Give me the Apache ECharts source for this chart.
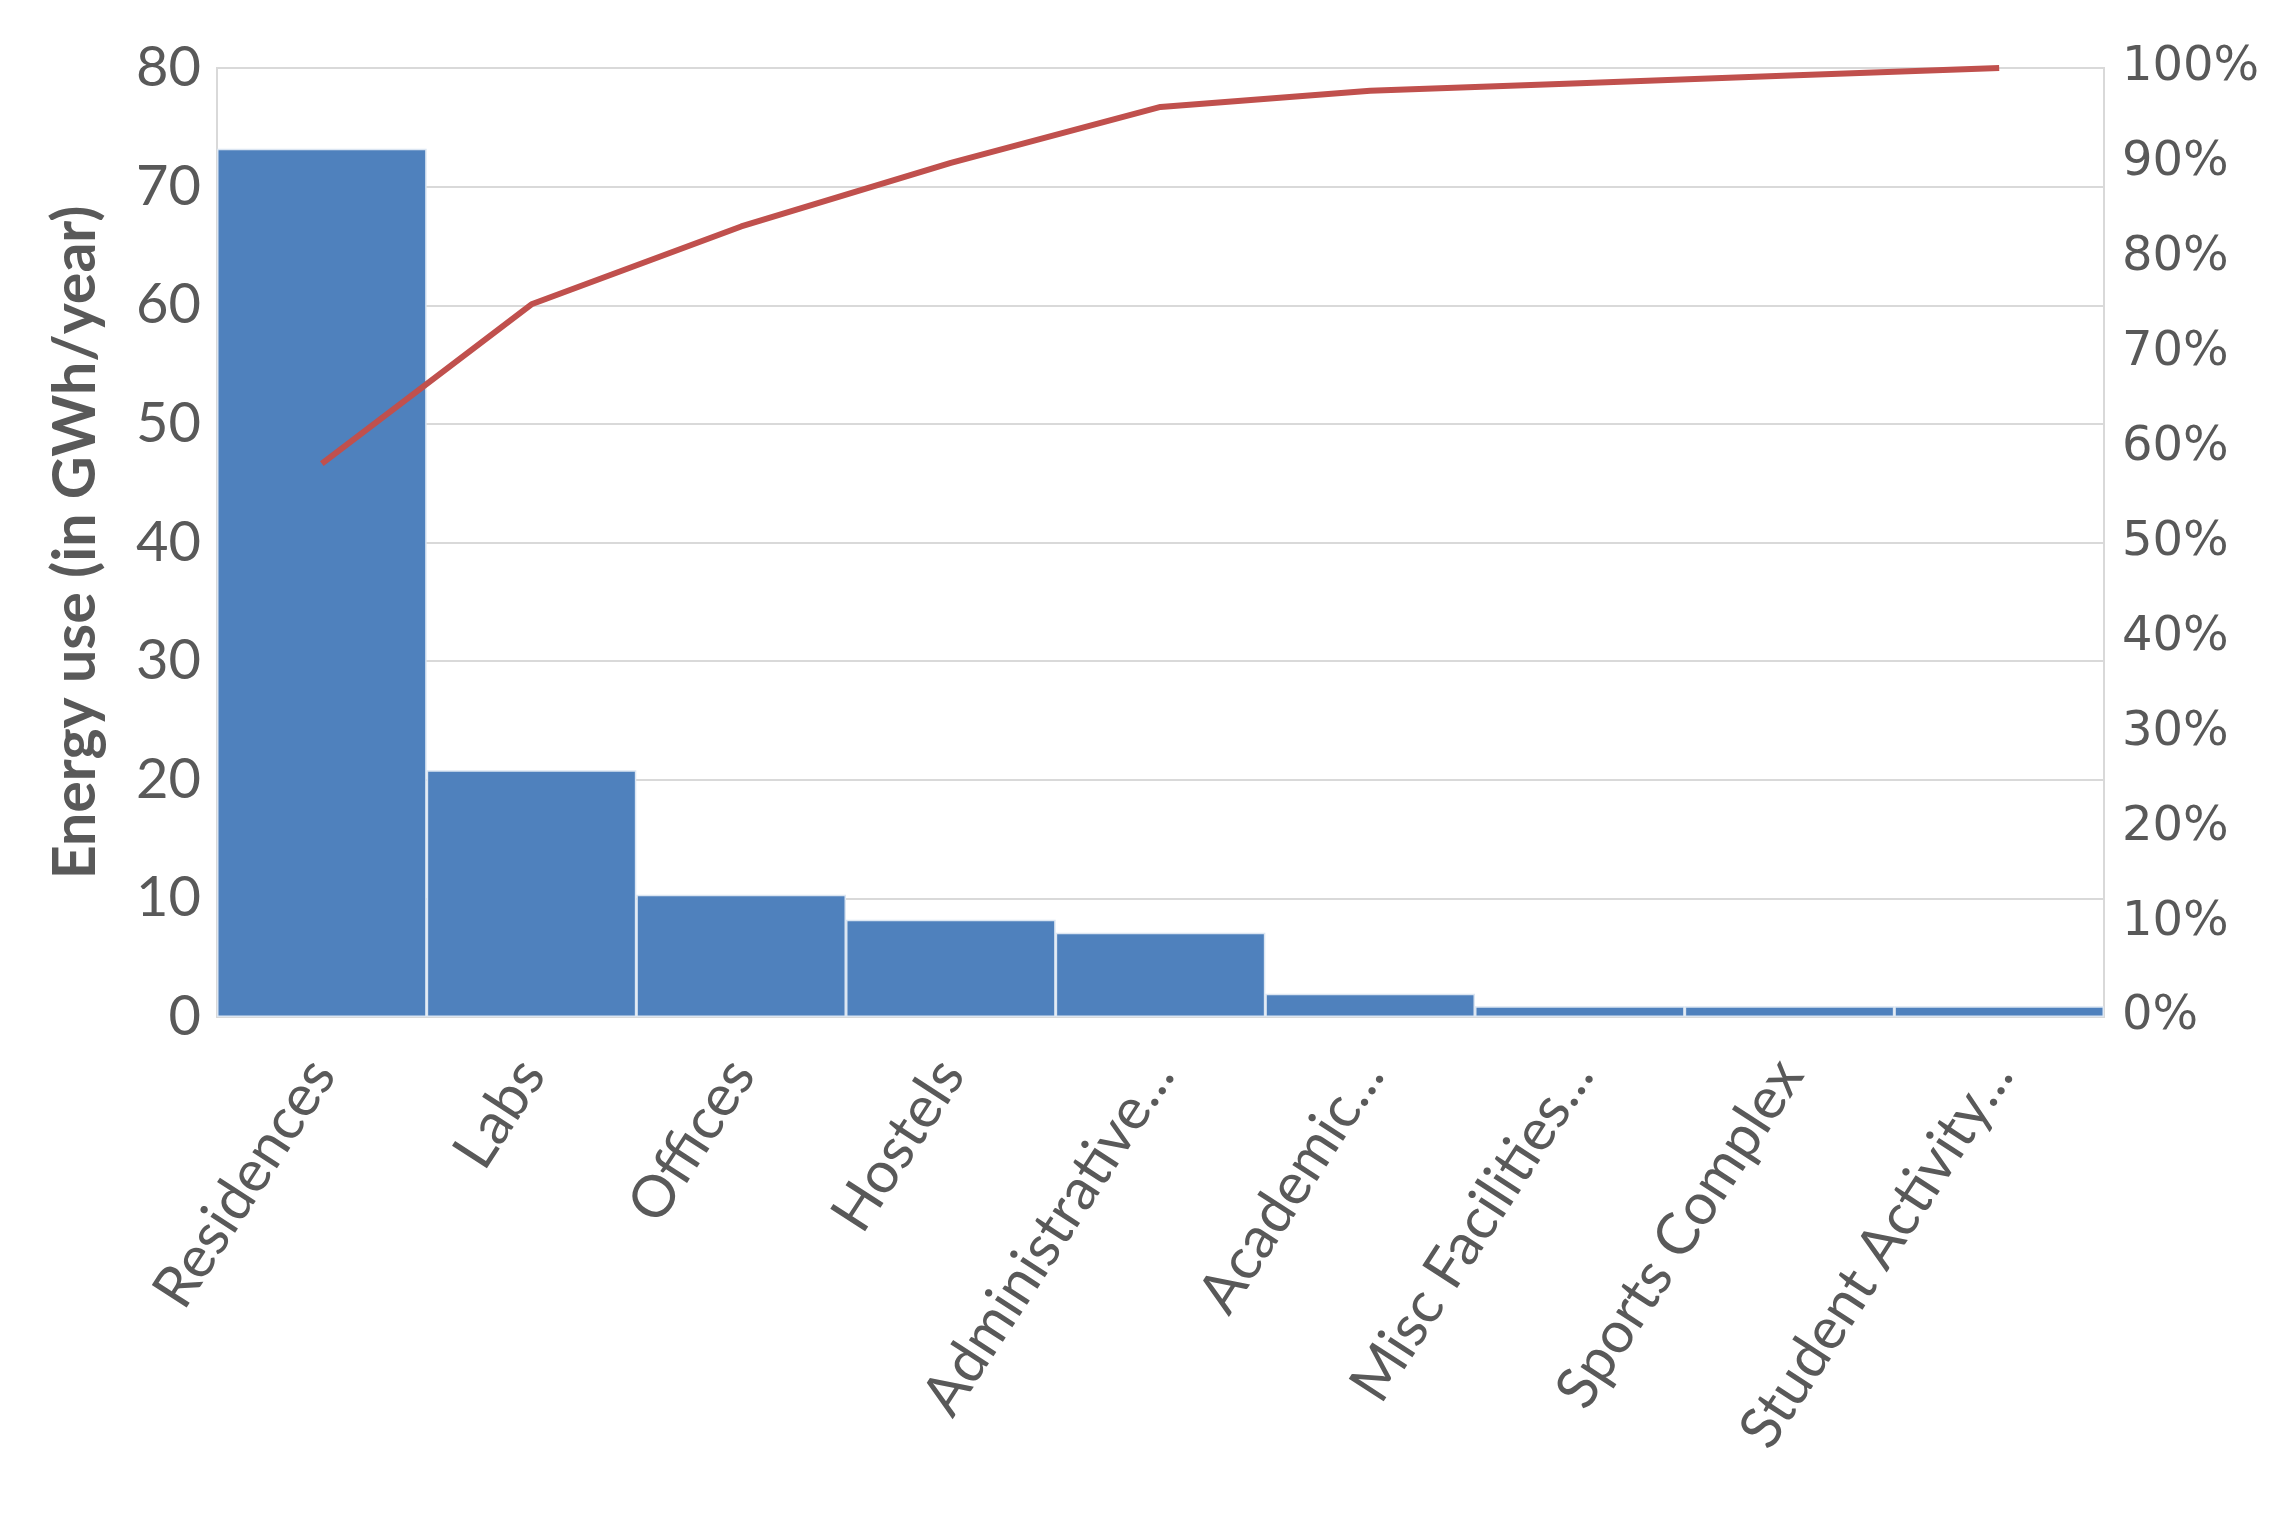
<!DOCTYPE html>
<html lang="en">
<head>
    <meta charset="UTF-8">
    <title>Energy use pareto</title>
    <script type="text/javascript" src="https://cdn.jsdelivr.net/npm/echarts@6/dist/echarts.min.js"></script>
    <style>
        html, body { margin: 0; padding: 0; background: #fff; }
        #main { width: 2291px; height: 1523px; }
    </style>
</head>
<body>
<div id="main"></div>
<script type="text/javascript">
    // categories and values
    var categories = ['Residences', 'Labs', 'Offices', 'Hostels', 'Administrative...',
        'Academic...', 'Misc Facilities...', 'Sports Complex', 'Student Activity...'];
    var energyUse = [73.2, 20.8, 10.3, 8.2, 7.1, 1.95, 0.9, 0.9, 0.9];   // GWh/year
    var cumulativePct = [58.3, 75.1, 83.3, 90.0, 95.9, 97.6, 98.4, 99.2, 100]; // %
    var leftTicks = {min: 0, max: 80, interval: 10};
    var rightTicks = {min: 0, max: 100, interval: 10};

    var textColor = '#595959';
    var gridColor = '#D9D9D9';

    var myChart = echarts.init(document.getElementById('main'));
    myChart.setOption({
        animation: false,
        grid: {
            left: 217, right: 187, top: 68, bottom: 506,
            show: true,
            borderColor: gridColor,
            borderWidth: 2
        },
        xAxis: {
            type: 'category',
            data: categories,
            axisTick: {show: false},
            axisLine: {show: true, lineStyle: {color: gridColor, width: 2}},
            axisLabel: {
                rotate: 57,
                margin: 48,
                interval: 0,
                color: textColor,
                fontFamily: 'Lato',
                fontSize: 58
            }
        },
        yAxis: [{
            type: 'value',
            min: leftTicks.min,
            max: leftTicks.max,
            interval: leftTicks.interval,
            name: 'Energy use (in GWh/year)',
            nameLocation: 'middle',
            nameGap: 112,
            nameTextStyle: {
                color: textColor,
                fontFamily: 'Lato',
                fontWeight: 'bold',
                fontSize: 59
            },
            axisLine: {show: false},
            axisTick: {show: false},
            axisLabel: {
                color: textColor,
                fontFamily: 'Lato',
                fontSize: 56,
                margin: 16
            },
            splitLine: {lineStyle: {color: gridColor, width: 2}}
        }, {
            type: 'value',
            min: rightTicks.min,
            max: rightTicks.max,
            interval: rightTicks.interval,
            position: 'right',
            axisLine: {show: false},
            axisTick: {show: false},
            splitLine: {show: false},
            axisLabel: {
                formatter: '{value}%',
                color: textColor,
                fontFamily: 'DejaVu Sans',
                fontSize: 48,
                margin: 18
            }
        }],
        series: [{
            name: 'Energy use',
            type: 'bar',
            data: energyUse,
            barCategoryGap: '0%',
            itemStyle: {
                color: '#4F81BD',
                borderColor: '#DCE6F2',
                borderWidth: 1.5
            }
        }, {
            name: 'Cumulative',
            type: 'line',
            yAxisIndex: 1,
            data: cumulativePct,
            showSymbol: false,
            lineStyle: {color: '#C0504D', width: 6}
        }]
    });
</script>
</body>
</html>
